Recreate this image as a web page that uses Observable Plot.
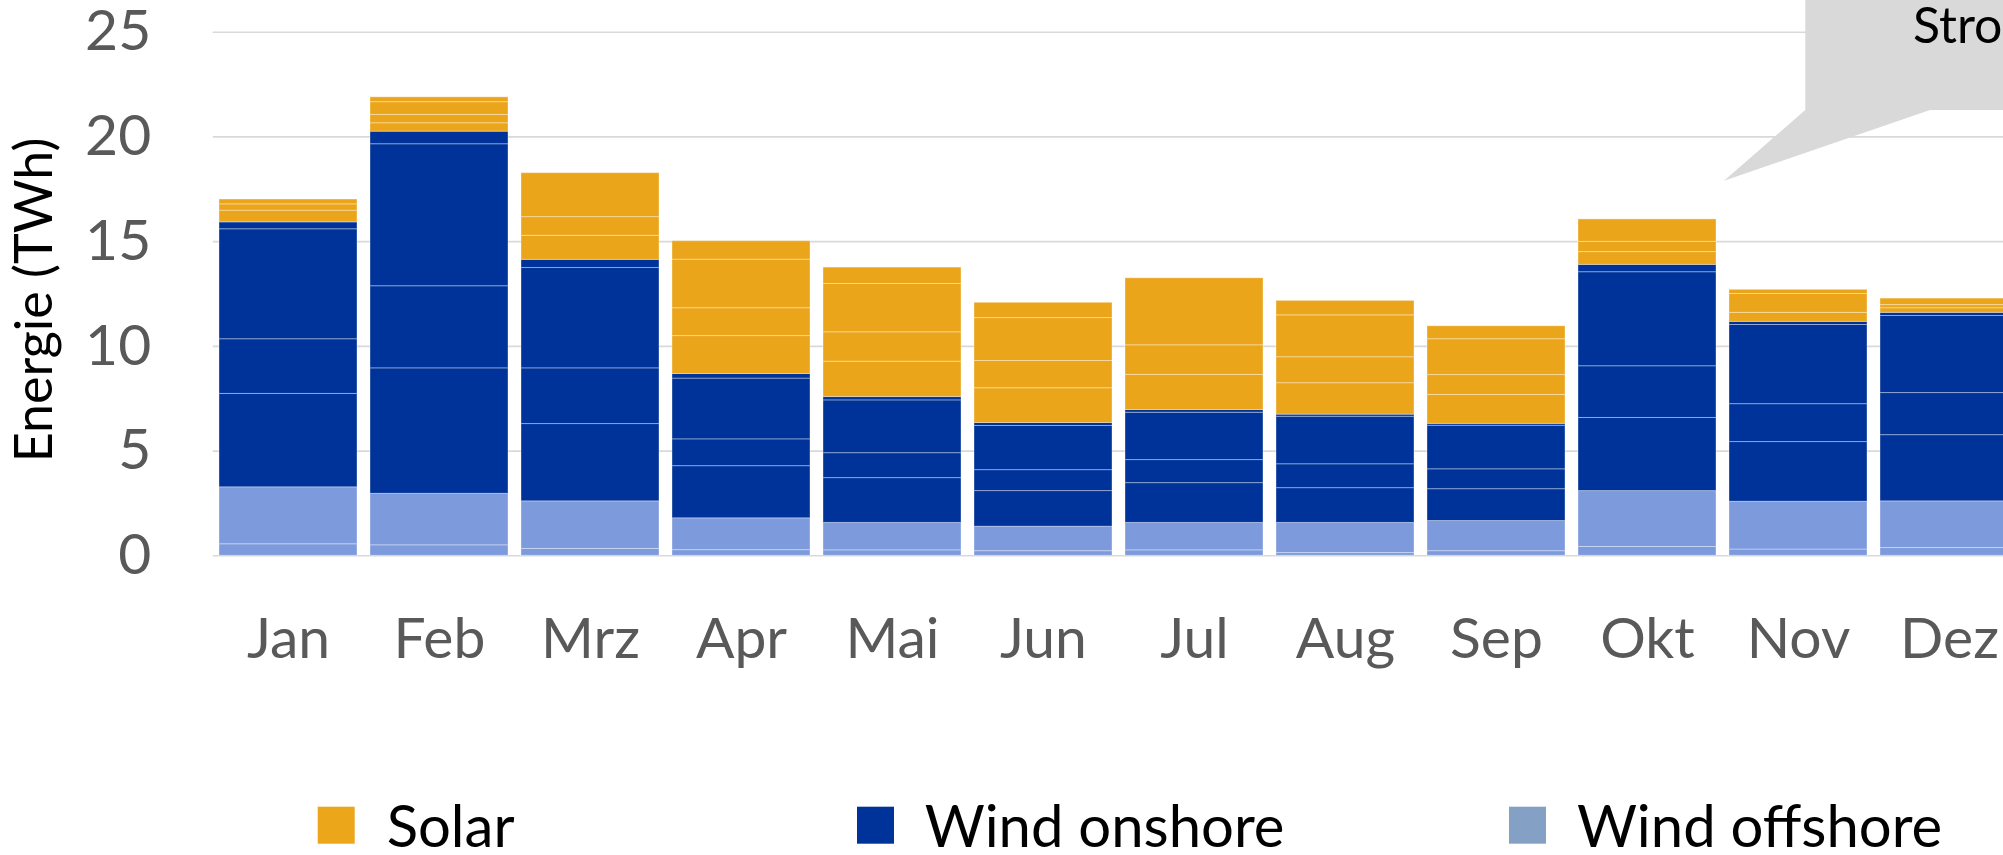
<!DOCTYPE html>
<html><head><meta charset="utf-8">
<script src="https://cdn.jsdelivr.net/npm/d3@7"></script>
<script src="https://cdn.jsdelivr.net/npm/@observablehq/plot@0.6"></script>
<style>
html,body{margin:0;padding:0;background:#fff;overflow:hidden;width:2003px;height:855px;}
#chart svg,#legend svg{display:block;max-width:none}
#legend svg{overflow:visible}
</style></head><body>
<div id="chart"></div>
<div id="legend"></div>
<script>
// Monats-Kategorien
const months = ["Jan","Feb","Mrz","Apr","Mai","Jun","Jul","Aug","Sep","Okt","Nov","Dez"];
// Teilsegmente je Monat (TWh), von unten nach oben gestapelt
const windOffshore = [[0.55,2.72],[0.50,2.46],[0.33,2.27],[0.27,1.52],[0.26,1.31],[0.22,1.17],[0.26,1.31],[0.13,1.44],[0.22,1.44],[0.42,2.67],[0.30,2.28],[0.37,2.23]];
const windOnshore = [[4.46,2.61,5.25,0.33],[5.99,3.92,6.78,0.60],[3.69,2.66,4.79,0.39],[2.49,1.28,2.90,0.22],[2.14,1.19,2.52,0.16],[1.70,1.00,2.11,0.14],[1.90,1.10,2.26,0.13],[1.66,1.14,2.27,0.10],[1.52,0.95,2.08,0.09],[3.49,2.47,4.49,0.35],[2.85,1.81,3.78,0.15],[3.16,2.01,3.68,0.15]];
const solar = [[0.56,0.30,0.23],[0.40,0.40,0.61,0.23],[1.15,0.89,2.10],[1.81,1.33,2.32,0.88],[1.69,1.40,2.31,0.78],[1.66,1.30,2.05,0.73],[1.68,1.41,3.20],[1.50,1.24,2.00,0.69],[1.38,0.95,1.71,0.62],[0.61,0.49,1.07],[0.43,0.90,0.20],[0.22,0.15,0.31]];
const yTicks = [0,5,10,15,20,25];
const seriesNames = ["Wind offshore","Wind onshore","Solar"];
const barColors = ["#7C9ADC","#003399","#EBA51A"];
const legendNames = ["Solar","Wind onshore","Wind offshore"];
const legendColors = ["#ECA61A","#00339A","#84A0C4"];

const rows = [];
months.forEach((m, i) => {
  [windOffshore, windOnshore, solar].forEach((arr, k) => {
    arr[i].forEach((v, j) => rows.push({month: m, source: seriesNames[k], part: j, value: v}));
  });
});

const W = 2003, H = 760, y0 = 555.3, left = 212.7;
const chart = Plot.plot({
  width: W, height: H,
  marginTop: 31.7, marginBottom: H - y0, marginLeft: left, marginRight: 0,
  style: {fontFamily: "Lato, sans-serif", fontSize: "57px", background: "white", overflow: "hidden"},
  x: {domain: months, range: [left, left + 12 * 151], paddingInner: 0.088, paddingOuter: 0.044, label: null},
  y: {domain: [0, 25], label: null},
  color: {domain: seriesNames, range: barColors},
  marks: [
    Plot.gridY(yTicks, {stroke: "#d9d9d9", strokeOpacity: 1, strokeWidth: 1.6}),
    Plot.barY(rows, {x: "month", y: "value", fill: "source", stroke: "#ffffff", strokeOpacity: 0.35, strokeWidth: 1}),
    Plot.axisY(yTicks, {tickSize: 0, tickPadding: 62, fill: "#595959", label: null}),
    Plot.axisX({tickSize: 0, tickPadding: 62, fill: "#595959", label: null})
  ]
});
document.getElementById("chart").appendChild(chart);

// Annotation (Sprechblase) und Achsentitel
const s = d3.select(chart);
s.append("polygon")
  .attr("points", "1805.3,-5 1805.3,110 1724,180.7 1930,110 2010,110 2010,-5")
  .attr("fill", "#d9d9d9");
s.append("text").attr("x", 1913).attr("y", 43).attr("text-anchor", "start")
  .attr("font-family", "Lato, sans-serif").attr("font-size", 50).attr("fill", "#000")
  .text("Stro");
s.append("text").attr("transform", "translate(51.7,300) rotate(-90)")
  .attr("text-anchor", "middle")
  .attr("font-family", "Lato, sans-serif").attr("font-size", 52).attr("fill", "#000")
  .text("Energie (TWh)");

// Legende unterhalb
const lg = d3.select("#legend").append("svg").attr("width", W).attr("height", 855 - H)
  .style("font-family", "Lato, sans-serif");
const lx = [317.7, 857, 1509];
const tx = [386.7, 924.8, 1577];
legendNames.forEach((n, i) => {
  lg.append("rect").attr("x", lx[i]).attr("y", 46.7).attr("width", 37).attr("height", 37).attr("fill", legendColors[i]);
  lg.append("text").attr("x", tx[i]).attr("y", 87).attr("font-size", 58).attr("fill", "#000").text(n);
});
</script>
</body></html>
